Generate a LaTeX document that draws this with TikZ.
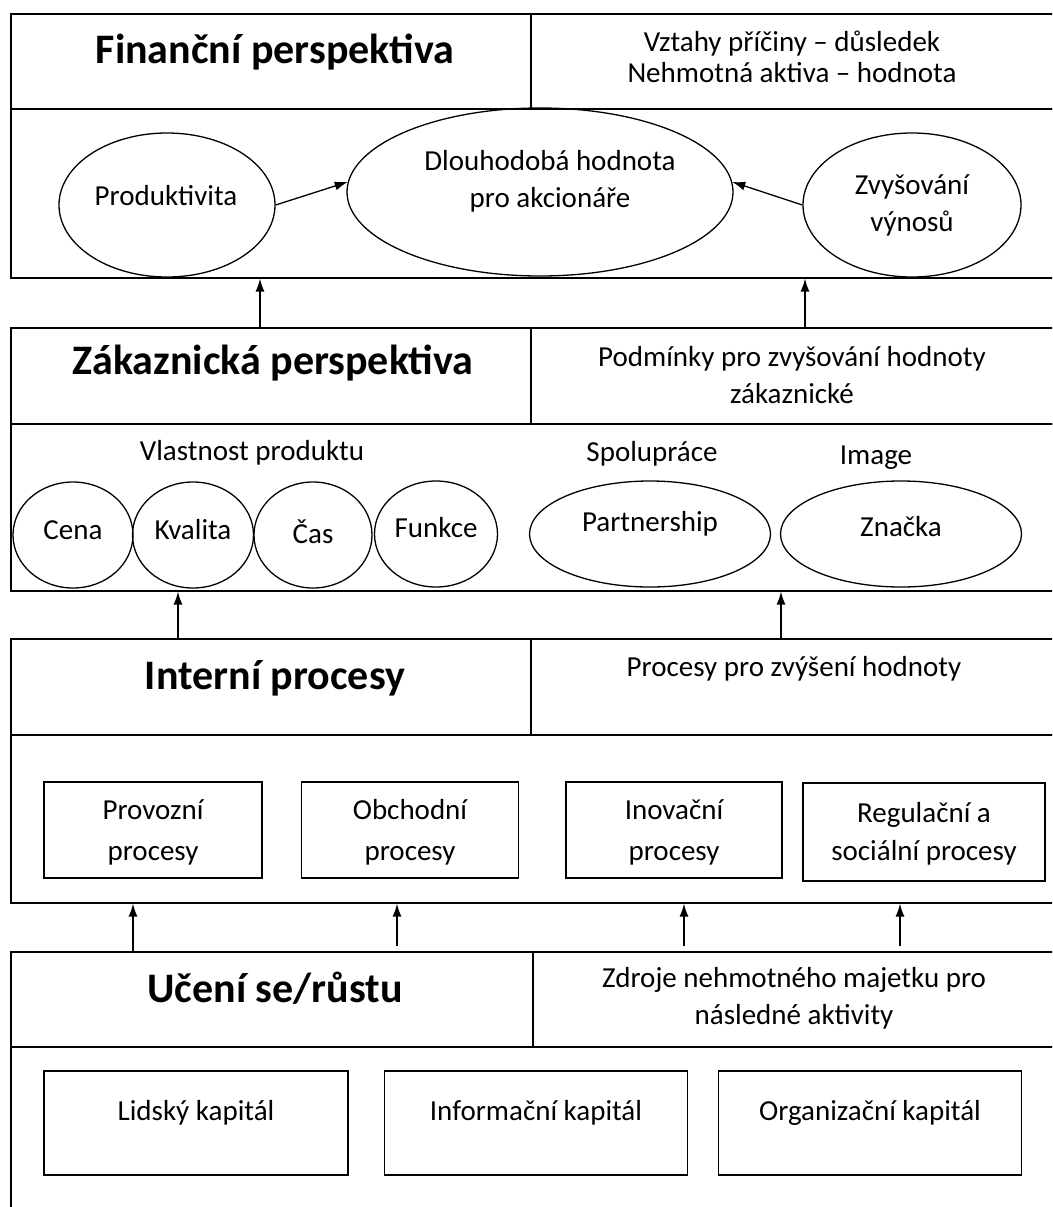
\documentclass[tikz,border=0pt]{standalone}
\usepackage{fontspec}
\setmainfont{Carlito}
\usetikzlibrary{arrows.meta,shapes.geometric}
\begin{document}
\begin{tikzpicture}[x=1pt,y=-1pt,
  cell/.style={draw, rectangle, line width=1.6pt, inner sep=0pt, anchor=north west},
  oval/.style={draw, ellipse, line width=1.3pt, inner sep=0pt},
  procbox/.style={draw, rectangle, line width=1.3pt, inner sep=0pt},
  txt/.style={font=\fontsize{29}{37}\selectfont, align=center, inner sep=0pt},
  title/.style={font=\fontsize{42}{50}\selectfont\bfseries, inner sep=0pt},
  up/.style={line width=1.3pt, -{Latex[length=13pt,width=9pt]}}]
\useasboundingbox (0,0) rectangle (1052,1207);
\clip (0,0) rectangle (1052,1207);

% ---------- Finanční perspektiva ----------
\node[cell, minimum width=520, minimum height=95] (finL) at (10,13) {};
\node[cell, minimum width=530, minimum height=95] (finR) at (530,13) {};
\node[cell, minimum width=1050, minimum height=169] (finB) at (10,108) {};
\node[title] (finT) at (275,52) {Finanční perspektiva};
\node[txt, font=\fontsize{29}{31}\selectfont] (finD) at (792,57) {Vztahy příčiny – důsledek\\Nehmotná aktiva – hodnota};

\node[oval, minimum width=216, minimum height=144] (prod) at (167,205) {};
\node[txt] (prodT) at (166,196) {Produktivita};
\node[oval, minimum width=386, minimum height=168] (big) at (540,192) {};
\node[txt] (bigT) at (550,181) {Dlouhodobá hodnota\\pro akcionáře};
\node[oval, minimum width=218, minimum height=144] (zvys) at (912,205) {};
\node[txt] (zvysT) at (912,205) {Zvyšování\\výnosů};
\draw[up] (prod.east) -- (big.177);
\draw[up] (zvys.west) -- (big.3);

% ---------- Zákaznická perspektiva ----------
\node[cell, minimum width=520, minimum height=96] (zakL) at (10,327) {};
\node[cell, minimum width=530, minimum height=96] (zakR) at (530,327) {};
\node[cell, minimum width=1050, minimum height=167] (zakB) at (10,423) {};
\node[title] (zakT) at (273,363) {Zákaznická perspektiva};
\node[txt] (zakD) at (792,375) {Podmínky pro zvyšování hodnoty\\zákaznické};

\node[txt] (vlast) at (252,453) {Vlastnost produktu};
\node[txt] (spol) at (652,454) {Spolupráce};
\node[txt] (img) at (876,458) {Image};

\node[oval, minimum width=120, minimum height=106] (cena) at (73,535) {};
\node[txt] (cenaT) at (73,530) {Cena};
\node[oval, minimum width=121, minimum height=106] (kval) at (193,535) {};
\node[txt] (kvalT) at (193,530) {Kvalita};
\node[oval, minimum width=118, minimum height=106] (cas) at (313,535) {};
\node[txt] (casT) at (313,532) {Čas};
\node[oval, minimum width=123, minimum height=106] (funk) at (436,534) {};
\node[txt] (funkT) at (436,528) {Funkce};
\node[oval, minimum width=241, minimum height=106] (part) at (650,534) {};
\node[txt] (partT) at (650,524) {Partnership};
\node[oval, minimum width=241, minimum height=106] (znac) at (901,534) {};
\node[txt] (znacT) at (901,527) {Značka};

\path (260,0) coordinate (c1) (805,0) coordinate (c2);
\draw[up] (c1 |- zakL.north) -- (c1 |- finB.south);
\draw[up] (c2 |- zakR.north) -- (c2 |- finB.south);

% ---------- Interní procesy ----------
\node[cell, minimum width=520, minimum height=96] (intL) at (10,638) {};
\node[cell, minimum width=530, minimum height=96] (intR) at (530,638) {};
\node[cell, minimum width=1050, minimum height=168] (intB) at (10,734) {};
\node[title] (intT) at (275,678) {Interní procesy};
\node[txt] (intD) at (794,669) {Procesy pro zvýšení hodnoty};

\node[procbox, minimum width=218, minimum height=96] (prov) at (153,830) {};
\node[txt, font=\fontsize{29}{41}\selectfont] (provT) at (153,832) {Provozní\\procesy};
\node[procbox, minimum width=217, minimum height=96] (obch) at (410,830) {};
\node[txt, font=\fontsize{29}{41}\selectfont] (obchT) at (410,832) {Obchodní\\procesy};
\node[procbox, minimum width=216, minimum height=96] (inov) at (674,830) {};
\node[txt, font=\fontsize{29}{41}\selectfont] (inovT) at (674,832) {Inovační\\procesy};
\node[procbox, minimum width=242, minimum height=98] (regu) at (924,832) {};
\node[txt, font=\fontsize{29}{38}\selectfont] (reguT) at (924,834) {Regulační a\\sociální procesy};

\path (178,0) coordinate (c3) (781,0) coordinate (c4);
\draw[up] (c3 |- intL.north) -- (c3 |- zakB.south);
\draw[up] (c4 |- intR.north) -- (c4 |- zakB.south);

% ---------- Učení se/růstu ----------
\node[cell, minimum width=522, minimum height=95] (uceL) at (10,951) {};
\node[cell, minimum width=528, minimum height=95] (uceR) at (532,951) {};
\node[cell, minimum width=1050, minimum height=175] (uceB) at (10,1046) {};
\node[title] (uceT) at (275,988) {Učení se/růstu};
\node[txt] (uceD) at (794,998) {Zdroje nehmotného majetku pro\\následné aktivity};

\node[procbox, minimum width=304, minimum height=104] (lid) at (196,1123) {};
\node[txt] (lidT) at (196,1113) {Lidský kapitál};
\node[procbox, minimum width=303, minimum height=104] (inf) at (536,1123) {};
\node[txt] (infT) at (536,1113) {Informační kapitál};
\node[procbox, minimum width=303, minimum height=104] (org) at (870,1123) {};
\node[txt] (orgT) at (870,1113) {Organizační kapitál};

\path (133,0) coordinate (c5) (397,946) coordinate (c6)
      (684,946) coordinate (c7) (900,946) coordinate (c8);
\draw[up] (c5 |- uceL.north) -- (c5 |- intB.south);
\draw[up] (c6) -- (c6 |- intB.south);
\draw[up] (c7) -- (c7 |- intB.south);
\draw[up] (c8) -- (c8 |- intB.south);
\end{tikzpicture}
\end{document}
